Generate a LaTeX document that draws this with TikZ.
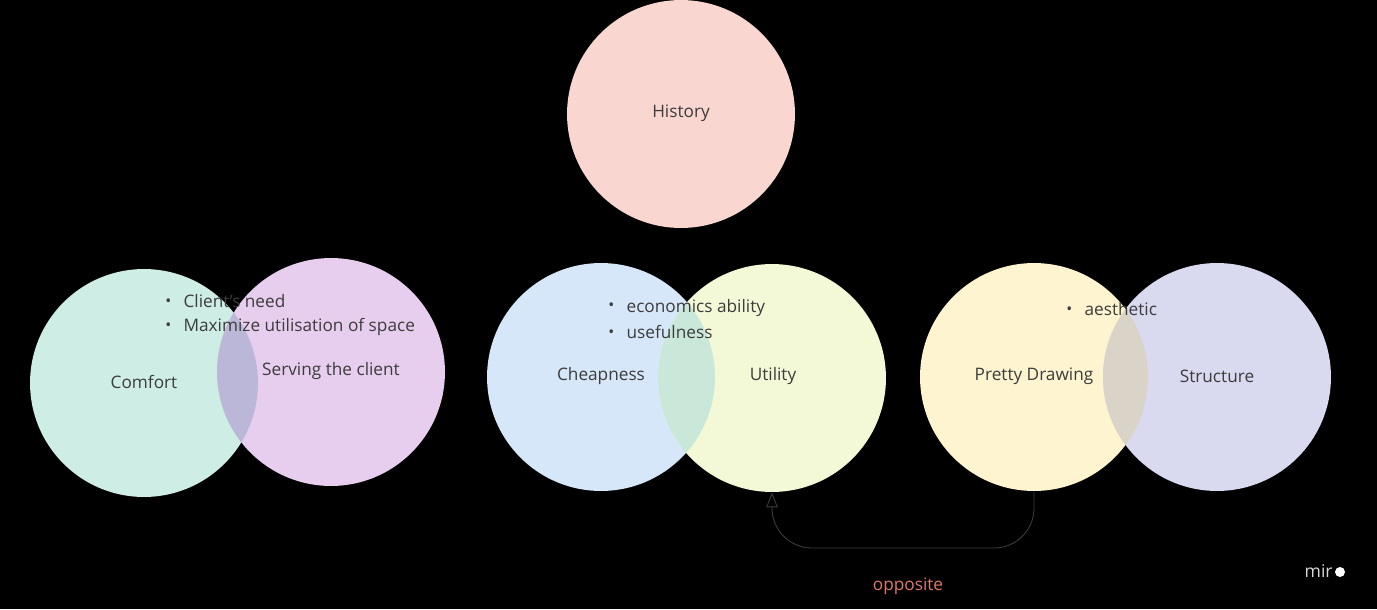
\documentclass[tikz,border=0pt]{standalone}
\usepackage{fontspec}
\setmainfont{Open Sans}
\usetikzlibrary{positioning,arrows.meta}
\definecolor{ink}{HTML}{3C3C3C}
\definecolor{hist}{HTML}{F9D7D0}
\definecolor{comf}{HTML}{CEEDE5}
\definecolor{serv}{HTML}{E7CDEE}
\definecolor{cheap}{HTML}{D6E7FA}
\definecolor{util}{HTML}{F3F9D6}
\definecolor{pretty}{HTML}{FEF4D0}
\definecolor{struct}{HTML}{D9D9F0}
\definecolor{lensa}{HTML}{BAB7D9}
\definecolor{lensb}{HTML}{C9E8DA}
\definecolor{lensc}{HTML}{D9D3C8}
\definecolor{oppred}{HTML}{E0766C}
\newcommand{\itm}{{\fontsize{9}{9}\selectfont\raisebox{0.15ex}{•}}\hspace{7pt}}

\begin{document}
\begin{tikzpicture}[x=0.02cm, y=-0.02cm,
  font=\fontsize{9.8}{13.6}\selectfont,
  bubble/.style={circle, fill=#1, minimum size=4.56cm, inner sep=0pt,
                 text=ink},
  notes/.style={anchor=west, align=left, text=ink, inner sep=0pt},
  opp/.style={-{Triangle[open, length=3mm, width=2.3mm]}, draw=ink,
              line width=0.5pt, rounded corners=0.8cm},
]
\useasboundingbox (0,0) rectangle (1377,609);
\fill[black] (0,0) rectangle (1377,609);
\node[bubble=hist] (history) at (681, 114) {};
\node[bubble=comf] (comfort) at (144, 383) {};
\node[bubble=serv] (serving) at (331, 372) {};
\node[bubble=cheap] (cheap) at (601, 377) {};
\node[bubble=util] (utility) at (772, 378) {};
\node[bubble=pretty] (pretty) at (1034, 377) {};
\node[bubble=struct] (struct) at (1217, 377) {};
% overlaps
\begin{scope}
  \clip (comfort.center) circle[radius=2.28cm];
  \fill[lensa] (serving.center) circle[radius=2.28cm];
\end{scope}
\begin{scope}
  \clip (cheap.center) circle[radius=2.28cm];
  \fill[lensb] (utility.center) circle[radius=2.28cm];
\end{scope}
\begin{scope}
  \clip (pretty.center) circle[radius=2.28cm];
  \fill[lensc] (struct.center) circle[radius=2.28cm];
\end{scope}
\node[text=ink] (histlbl) at (681, 113) {History};
\node[text=ink] (comflbl) at (144, 382) {Comfort};
\node[text=ink] (servlbl) at (331, 371) {Serving the client};
\node[text=ink] (cheaplbl) at (601, 376) {Cheapness};
\node[text=ink] (utillbl) at (773, 376) {Utility};
\node[text=ink] (prettylbl) at (1034, 376) {Pretty Drawing};
\node[text=ink] (structlbl) at (1217, 376) {Structure};
% bullet notes
\node[notes] (needs) at (165, 315)
  {\itm Client's need\\ \itm Maximize utilisation of space};
\node[notes] (costs) at (608, 319)
  {\itm economics ability\\[1.5pt] \itm usefulness};
\node[notes] (looks) at (1066, 309) {\itm aesthetic};
% connector
\coordinate (bend) at (903, 548);
\draw[opp] (pretty.south) |- (bend) -| (utility.south);
\node[text=oppred] (opplbl) at (908, 586) {opposite};
% logo
\node[text=white!85!black, anchor=east, inner sep=0pt,
      font=\fontsize{10}{10}\selectfont] (logo) at (1333, 571) {mir};
\fill[white] (1340, 572) circle[radius=0.1cm];
\end{tikzpicture}
\end{document}
